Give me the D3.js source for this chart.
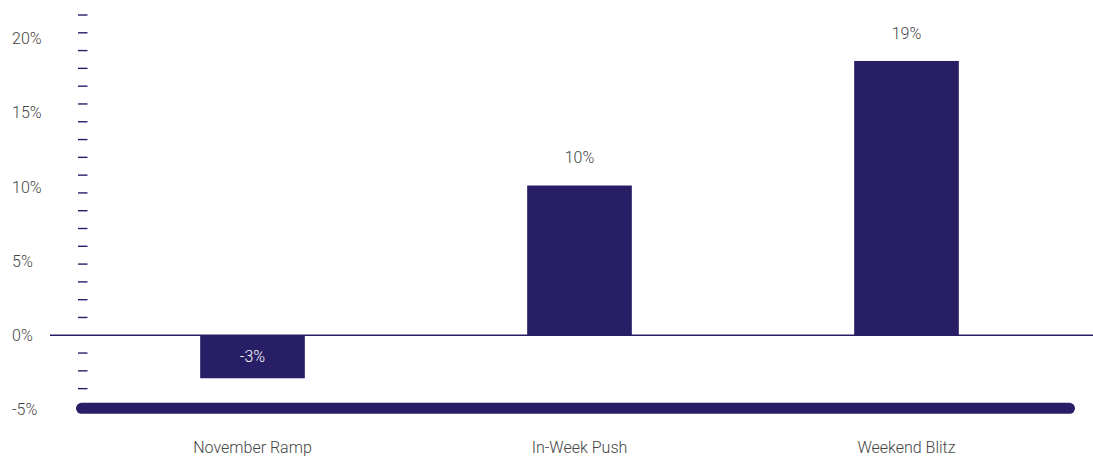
<!DOCTYPE html>
<html>
<head>
<meta charset="utf-8">
<script src="https://cdn.jsdelivr.net/npm/d3@7"></script>
<style>
  html, body { margin: 0; padding: 0; background: #fff; }
  svg text { font-family: Roboto, "Noto Sans", sans-serif; font-weight: 300; }
</style>
</head>
<body>
<svg id="chart" width="1093" height="458"></svg>
<script>
// ---- data ----
const categories = ["November Ramp", "In-Week Push", "Weekend Blitz"];
const values = [-2.9, 10.1, 18.5];
const valueLabels = ["-3%", "10%", "19%"];
const yTickValues = [-5, 0, 5, 10, 15, 20];
const yTickLabels = ["-5%", "0%", "5%", "10%", "15%", "20%"];
const yDomain = [-5, 21.6];
const minorStep = 1.2;

// ---- layout ----
const W = 1093, H = 458;
const navy = "#281e65";
const textCol = "#444444";
const svg = d3.select("#chart");

const y = d3.scaleLinear().domain(yDomain).range([409.4, 15]);
const x = d3.scaleBand().domain(categories).range([89, 1070])
  .paddingInner(0.68).paddingOuter(0.34);

// minor tick marks
const minorTicks = d3.range(-3, 19).map(k => +(k * minorStep).toFixed(4)).filter(v => v !== 0);
svg.append("g").selectAll("line").data(minorTicks).join("line")
  .attr("x1", 78).attr("x2", 87.5)
  .attr("y1", d => y(d)).attr("y2", d => y(d))
  .attr("stroke", navy).attr("stroke-width", 1.4);

// y labels
svg.append("g").selectAll("text").data(yTickValues).join("text")
  .attr("x", 12).attr("y", d => y(d))
  .attr("dy", "0.35em")
  .attr("font-size", 16).attr("fill", textCol)
  .text((d, i) => yTickLabels[i]);

// bars
svg.append("g").selectAll("rect").data(values).join("rect")
  .attr("x", (d, i) => x(categories[i]))
  .attr("width", x.bandwidth())
  .attr("y", d => y(Math.max(0, d)))
  .attr("height", d => Math.abs(y(d) - y(0)))
  .attr("fill", navy);

// zero line
svg.append("line")
  .attr("x1", 50).attr("x2", W)
  .attr("y1", y(0)).attr("y2", y(0))
  .attr("stroke", navy).attr("stroke-width", 1.5);

// thick base axis line
svg.append("line")
  .attr("x1", 81.5).attr("x2", 1069.5)
  .attr("y1", 408.3).attr("y2", 408.3)
  .attr("stroke", navy).attr("stroke-width", 11)
  .attr("stroke-linecap", "round");

// value labels
svg.append("g").selectAll("text").data(values).join("text")
  .attr("x", (d, i) => x(categories[i]) + x.bandwidth() / 2)
  .attr("y", d => d < 0 ? (y(0) + y(d)) / 2 : y(d) - 28)
  .attr("dy", "0.35em")
  .attr("text-anchor", "middle")
  .attr("font-size", 16)
  .attr("fill", d => d < 0 ? "#ffffff" : textCol)
  .text((d, i) => valueLabels[i]);

// category labels
svg.append("g").selectAll("text").data(categories).join("text")
  .attr("x", d => x(d) + x.bandwidth() / 2)
  .attr("y", 447)
  .attr("dy", "0.35em")
  .attr("text-anchor", "middle")
  .attr("font-size", 16)
  .attr("fill", textCol)
  .text(d => d);
</script>
</body>
</html>
